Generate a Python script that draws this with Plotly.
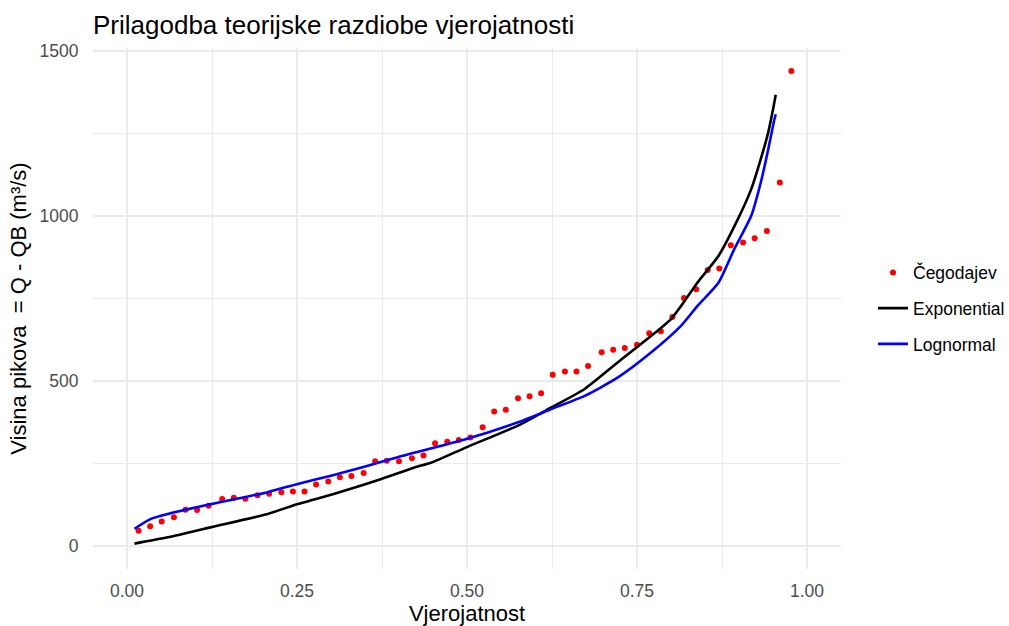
import plotly.graph_objects as go

# Empirical points (Čegodajev plotting positions)
cego_p = [0.017, 0.034, 0.051, 0.069, 0.086, 0.103, 0.120, 0.140, 0.157, 0.174,
          0.192, 0.209, 0.227, 0.244, 0.261, 0.278, 0.296, 0.313, 0.330, 0.348,
          0.365, 0.382, 0.400, 0.419, 0.436, 0.453, 0.471, 0.488, 0.505, 0.523,
          0.540, 0.557, 0.575, 0.592, 0.609, 0.626, 0.644, 0.661, 0.678, 0.698,
          0.715, 0.732, 0.750, 0.768, 0.785, 0.802, 0.819, 0.837, 0.854, 0.871,
          0.888, 0.906, 0.923, 0.941, 0.960, 0.977]
cego_q = [46, 60, 74, 87, 110, 109, 122, 142, 146, 143,
          154, 158, 163, 165, 165, 186, 195, 208, 212, 221,
          257, 258, 257, 266, 274, 311, 316, 321, 329, 360,
          408, 413, 448, 454, 463, 519, 529, 529, 546, 587,
          595, 600, 610, 645, 651, 694, 752, 778, 837, 841,
          912, 920, 933, 955, 1102, 1440]

# Exponential fit curve
exp_p = [0.011, 0.060, 0.124, 0.207, 0.251, 0.278, 0.329, 0.374, 0.423, 0.447,
         0.499, 0.575, 0.624, 0.673, 0.722, 0.771, 0.800, 0.815, 0.839, 0.870,
         0.896, 0.918, 0.932, 0.943, 0.951, 0.954]
exp_q = [7, 26, 57, 97, 127, 142, 173, 203, 238, 252,
         299, 365, 420, 476, 557, 637, 688, 728, 799, 880,
         981, 1082, 1173, 1254, 1334, 1368]

# Lognormal fit curve
lnorm_p = [0.011, 0.035, 0.060, 0.124, 0.207, 0.251, 0.300, 0.349, 0.398, 0.499,
           0.575, 0.624, 0.673, 0.722, 0.771, 0.815, 0.839, 0.870, 0.893, 0.918,
           0.932, 0.943, 0.951, 0.954]
lnorm_q = [52, 82, 97, 127, 163, 188, 213, 240, 269, 324,
           375, 415, 455, 511, 587, 668, 728, 799, 900, 1001,
           1102, 1203, 1284, 1309]

x_ticks = [0.0, 0.25, 0.5, 0.75, 1.0]
x_ticktext = ["0.00", "0.25", "0.50", "0.75", "1.00"]
y_ticks = [0, 500, 1000, 1500]

fig = go.Figure()
fig.add_trace(go.Scatter(x=cego_p, y=cego_q, mode="markers", name="Čegodajev",
                         marker=dict(color="#FF0000", size=6), legendgroup="a"))
fig.add_trace(go.Scatter(x=exp_p, y=exp_q, mode="lines", name="Exponential",
                         line=dict(color="#000000", width=2.6, shape="spline", smoothing=0.6),
                         legendgroup="b"))
fig.add_trace(go.Scatter(x=lnorm_p, y=lnorm_q, mode="lines", name="Lognormal",
                         line=dict(color="#0000FF", width=2.6, shape="spline", smoothing=0.6),
                         legendgroup="c"))

font_family = "Liberation Sans, Arial, sans-serif"
fig.update_layout(
    width=1009, height=626, autosize=False,
    paper_bgcolor="white", plot_bgcolor="white",
    margin=dict(l=93, r=168, t=48, b=57, autoexpand=False),
    font=dict(family=font_family, color="#000000"),
    title=dict(text="Prilagodba teorijske razdiobe vjerojatnosti",
               x=93 / 1009, xanchor="left", xref="container",
               y=1 - 25 / 626, yanchor="middle", yref="container",
               font=dict(size=26, color="#000000", family=font_family)),
    legend=dict(x=873 / 1009, xref="container", xanchor="left",
                y=0.5, yanchor="middle",
                font=dict(size=17.5, color="#000000"),
                tracegroupgap=10, bgcolor="rgba(0,0,0,0)"),
    showlegend=True,
)
fig.update_xaxes(range=[-0.05, 1.05], tickvals=x_ticks, ticktext=x_ticktext,
                 automargin=False,
                 showgrid=True, gridcolor="#EBEBEB", gridwidth=1.6,
                 minor=dict(showgrid=True, gridcolor="#EBEBEB", gridwidth=0.8, dtick=0.125, tick0=0),
                 zeroline=False, showline=False,
                 ticks="outside", ticklen=6, tickcolor="rgba(0,0,0,0)",
                 tickfont=dict(size=17.5, color="#4D4D4D"),
                 title=dict(text="Vjerojatnost", font=dict(size=22, color="#000000"), standoff=3))
fig.update_yaxes(range=[-70, 1510], tickvals=y_ticks,
                 automargin=False,
                 showgrid=True, gridcolor="#EBEBEB", gridwidth=1.6,
                 minor=dict(showgrid=True, gridcolor="#EBEBEB", gridwidth=0.8, dtick=250, tick0=0),
                 zeroline=False, showline=False,
                 ticks="outside", ticklen=10, tickcolor="rgba(0,0,0,0)",
                 tickfont=dict(size=17.5, color="#4D4D4D"),
                 title=dict(text="Visina pikova \u00a0= Q - QB (m³/s)",
                            font=dict(size=22, color="#000000"), standoff=6))

fig.write_html(
    "out.html",
    config={"responsive": False, "displayModeBar": False},
    post_script="document.body.style.margin='0';document.body.style.overflow='hidden';",
)
